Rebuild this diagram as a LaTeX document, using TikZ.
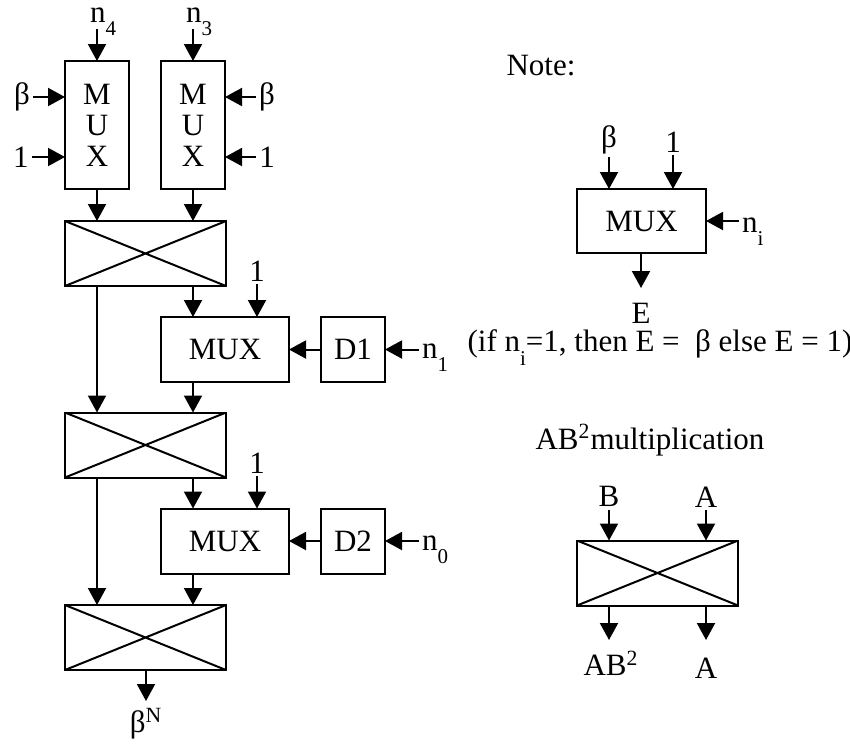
\documentclass[tikz,border=0pt]{standalone}
\usepackage{fontspec}
\setmainfont{Liberation Serif}
\usetikzlibrary{arrows.meta, positioning}
\newcommand{\lsub}[1]{\raisebox{-0.45em}{\fontsize{10.5}{12}\selectfont #1}}

\begin{document}
\begin{tikzpicture}[x=0.5pt, y=-0.5pt, >={Triangle[length=8.5pt,width=9pt]}, line width=1pt,
    every node/.style={font=\fontsize{15.5}{18}\selectfont},
    blk/.style={draw, inner sep=0pt, outer sep=0pt},
    lbl/.style={inner sep=1pt},
    mult/.style={blk, minimum width=80.5pt, minimum height=32.5pt,
        path picture={\draw (path picture bounding box.north west) -- (path picture bounding box.south east)
            (path picture bounding box.south west) -- (path picture bounding box.north east);}}]
    \useasboundingbox (0,0) rectangle (850,746);

    % 1. Hai bộ MUX phía trên
    \node[blk, minimum width=32pt, minimum height=64pt, align=center, font=\fontsize{15.5}{15.5}\selectfont] (mux4) at (97,125) {M\\U\\X};
    \node[blk, minimum width=32pt, minimum height=64pt, align=center, font=\fontsize{15.5}{15.5}\selectfont] (mux3) at (193,125) {M\\U\\X};
    \node[lbl, anchor=base west] (n4) at (87,22) {n\lsub{4}};
    \node[lbl, anchor=base west] (n3) at (183,22) {n\lsub{3}};
    \coordinate (n4in) at (97,29);
    \coordinate (n3in) at (193,29);
    \draw[->] (n4in) -- (mux4.north);
    \draw[->] (n3in) -- (mux3.north);
    \node[lbl] (b4) at (22,97) {β};
    \node[lbl] (o4) at (21,157) {1};
    \node[lbl] (b3) at (267,97) {β};
    \node[lbl] (o3) at (267,157) {1};
    \draw[->] (b4.east) -- (b4.east -| mux4.west);
    \draw[->] (o4.east) -- (o4.east -| mux4.west);
    \draw[->] (b3.west) -- (b3.west -| mux3.east);
    \draw[->] (o3.west) -- (o3.west -| mux3.east);

    % 2. Chuỗi nhân AB^2
    \node[mult] (m1) at (145.5,253.5) {};
    \draw[->] (mux4.south) -- (mux4.south |- m1.north);
    \draw[->] (mux3.south) -- (mux3.south |- m1.north);

    \node[blk, minimum width=64pt, minimum height=32.5pt] (mux1) at (225,349.5) {MUX};
    \node[blk, minimum width=32pt, minimum height=32.5pt] (d1) at (353,349.5) {D1};
    \node[lbl, anchor=south] (o1) at (257,284) {1};
    \node[lbl, anchor=base west] (n1) at (419,358) {n\lsub{1}};
    \draw[->] (o1.south) -- (o1.south |- mux1.north);
    \draw[->] (mux3 |- m1.south) -- (mux3 |- mux1.north);
    \draw[->] (d1) -- (mux1);
    \draw[->] (n1.west |- d1) -- (d1);

    \node[mult] (m2) at (145.5,445) {};
    \draw[->] (mux4 |- m1.south) -- (mux4 |- m2.north);
    \draw[->] (mux3 |- mux1.south) -- (mux3 |- m2.north);

    \node[blk, minimum width=64pt, minimum height=32.5pt] (mux2) at (225,541) {MUX};
    \node[blk, minimum width=32pt, minimum height=32.5pt] (d2) at (353,541) {D2};
    \node[lbl, anchor=south] (o2) at (257,476) {1};
    \node[lbl, anchor=base west] (n0) at (419,550) {n\lsub{0}};
    \draw[->] (o2.south) -- (o2.south |- mux2.north);
    \draw[->] (mux3 |- m2.south) -- (mux3 |- mux2.north);
    \draw[->] (d2) -- (mux2);
    \draw[->] (n0.west |- d2) -- (d2);

    \node[mult] (m3) at (145.5,637.5) {};
    \draw[->] (mux4 |- m2.south) -- (mux4 |- m3.north);
    \draw[->] (mux3 |- mux2.south) -- (mux3 |- m3.north);
    \node[lbl, anchor=north] (bN) at (146,705) {β\textsuperscript{N}};
    \draw[->, shorten >=2pt] (bN.north |- m3.south) -- (bN.north);

    % 3. Chú thích
    \node (note) at (541,66) {Note:};
    \node[blk, minimum width=64.5pt, minimum height=32pt] (nmux) at (641.5,221) {MUX};
    \node[lbl, anchor=south] (nb) at (609,157) {β};
    \node[lbl, anchor=south] (no) at (673,155) {1};
    \node[lbl, anchor=base west] (ni) at (739,232) {n\lsub{i}};
    \node[lbl, anchor=north, inner sep=0.5pt] (e) at (641,301) {E};
    \draw[->] (nb.south) -- (nb.south |- nmux.north);
    \draw[->] (no.south) -- (no.south |- nmux.north);
    \draw[->] (ni.west |- nmux) -- (nmux);
    \draw[->, shorten >=6.5pt] (e.north |- nmux.south) -- (e.north);
    \node[inner sep=0.5pt] (cond) at (660,348) {(if n\lsub{i}=1, then E = \ β else E = 1)};

    \node (ttl) at (650,440) {AB\textsuperscript{2}multiplication};
    \node[mult] (nm) at (657.5,573) {};
    \node[lbl, anchor=south] (bB) at (609,510) {B};
    \node[lbl, anchor=south] (bA) at (706,510) {A};
    \node[lbl, anchor=north] (ab) at (611,648) {AB\textsuperscript{2}};
    \node[lbl, anchor=north] (oA) at (706,655) {A};
    \draw[->] (bB.south) -- (bB.south |- nm.north);
    \draw[->] (bA.south) -- (bA.south |- nm.north);
    \draw[->, shorten >=4pt] ([xshift=16pt]nm.south west) -- ([xshift=16pt]nm.south west |- ab.north);
    \draw[->, shorten >=7.5pt] (oA.north |- nm.south) -- (oA.north);
\end{tikzpicture}
\end{document}
